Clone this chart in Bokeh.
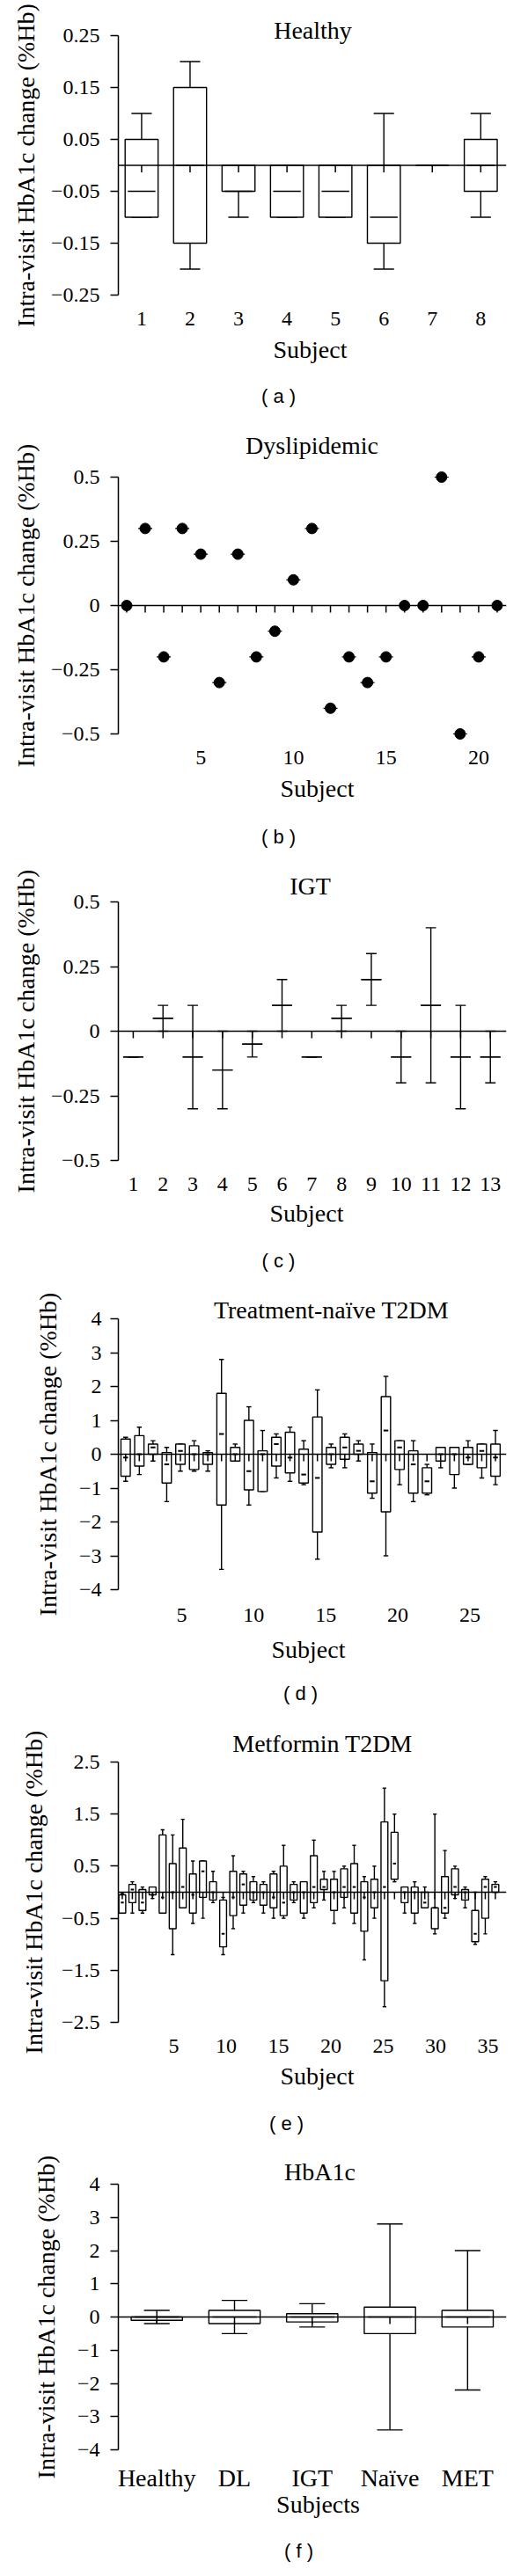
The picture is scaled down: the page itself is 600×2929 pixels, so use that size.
import math
from bokeh.plotting import figure
from bokeh.models import Range1d, FixedTicker, LinearAxis, Label, Span
from bokeh.layouts import column
from bokeh.embed import file_html
from bokeh.resources import INLINE

SERIF = "Liberation Serif"
SANS = "Liberation Sans"
Y_TITLE = "Intra-visit HbA1c change (%Hb)"

# ---------------- data ----------------
# (a) Healthy : box = q1..q3, whiskers lo..hi, median
a_subject = [1, 2, 3, 4, 5, 6, 7, 8]
a_q3 = [0.05, 0.15, 0.0, 0.0, 0.0, 0.0, 0.0, 0.05]
a_q1 = [-0.10, -0.15, -0.05, -0.10, -0.10, -0.15, 0.0, -0.05]
a_hi = [0.10, 0.20, 0.0, 0.0, 0.0, 0.10, 0.0, 0.10]
a_lo = [-0.10, -0.20, -0.10, -0.10, -0.10, -0.20, 0.0, -0.10]
a_med = [-0.05, 0.0, -0.05, -0.05, -0.05, -0.10, 0.0, 0.0]
a_yticks = [0.25, 0.15, 0.05, -0.05, -0.15, -0.25]
a_ylabels = ["0.25", "0.15", "0.05", "\u22120.05", "\u22120.15", "\u22120.25"]
a_xticks = [1, 2, 3, 4, 5, 6, 7, 8]

# (b) Dyslipidemic : one value per subject
b_subject = [1, 2, 3, 4, 5, 6, 7, 8, 9, 10, 11, 12, 13, 14, 15, 16, 17, 18, 19, 20, 21]
b_value = [0.0, 0.3, -0.2, 0.3, 0.2, -0.3, 0.2, -0.2, -0.1, 0.1, 0.3,
           -0.4, -0.2, -0.3, -0.2, 0.0, 0.0, 0.5, -0.5, -0.2, 0.0]
b_yticks = [0.5, 0.25, 0, -0.25, -0.5]
b_ylabels = ["0.5", "0.25", "0", "\u22120.25", "\u22120.5"]
b_xticks = [5, 10, 15, 20]

# (c) IGT : centre line and whiskers
c_subject = [1, 2, 3, 4, 5, 6, 7, 8, 9, 10, 11, 12, 13]
c_mid = [-0.1, 0.05, -0.1, -0.15, -0.05, 0.1, -0.1, 0.05, 0.2, -0.1, 0.1, -0.1, -0.1]
c_hi = [-0.1, 0.1, 0.1, 0.0, 0.0, 0.2, -0.1, 0.1, 0.3, 0.0, 0.4, 0.1, 0.0]
c_lo = [-0.1, 0.0, -0.3, -0.3, -0.1, 0.0, -0.1, 0.0, 0.1, -0.2, -0.2, -0.3, -0.2]
c_yticks = [0.5, 0.25, 0, -0.25, -0.5]
c_ylabels = ["0.5", "0.25", "0", "\u22120.25", "\u22120.5"]
c_xticks = [1, 2, 3, 4, 5, 6, 7, 8, 9, 10, 11, 12, 13]

# (d) Treatment-naive T2DM
d_subject = [1, 2, 3, 4, 5, 6, 7, 8, 9, 10, 11, 12, 13, 14, 15, 16, 17, 18, 19, 20,
             21, 22, 23, 24, 25, 26, 27, 28]
d_q3 = [0.45, 0.55, 0.3, 0.05, 0.3, 0.25, 0.05, 1.8, 0.2, 1.0, 0.1, 0.5, 0.65, 0.15,
        1.1, 0.2, 0.5, 0.3, 0.05, 1.7, 0.4, 0.1, -0.4, 0.2, 0.2, 0.2, 0.3, 0.3]
d_q1 = [-0.65, -0.35, 0.0, -0.85, -0.3, -0.45, -0.3, -1.5, -0.2, -1.05, -1.1, -0.35, -0.55, -0.85,
        -2.3, -0.3, -0.15, 0.0, -1.15, -1.7, -0.45, -1.15, -1.15, -0.2, -0.6, -0.3, -0.4, -0.65]
d_hi = [0.5, 0.8, 0.4, 0.2, 0.3, 0.4, 0.1, 2.8, 0.3, 1.4, 0.7, 0.6, 0.8, 0.4,
        1.9, 0.3, 0.6, 0.4, 0.3, 2.3, 0.4, 0.4, -0.3, 0.2, 0.2, 0.4, 0.3, 0.7]
d_lo = [-0.8, -0.6, -0.2, -1.4, -0.5, -0.5, -0.5, -3.4, -0.2, -1.5, -1.1, -0.7, -0.8, -0.9,
        -3.1, -0.4, -0.4, -0.2, -1.3, -3.0, -0.9, -1.4, -1.2, -0.4, -1.0, -0.3, -0.7, -0.9]
d_med = [-0.1, 0.0, 0.2, -0.3, 0.1, 0.0, 0.0, 0.6, 0.0, -0.5, 0.0, 0.3, -0.1, -0.6,
         -0.7, 0.0, 0.2, 0.1, -0.8, 0.7, 0.2, -0.3, -0.8, 0.0, 0.0, -0.1, 0.1, -0.1]
d_yticks = [4, 3, 2, 1, 0, -1, -2, -3, -4]
d_ylabels = ["4", "3", "2", "1", "0", "\u22121", "\u22122", "\u22123", "\u22124"]
d_xticks = [5, 10, 15, 20, 25]

# (e) Metformin T2DM
e_subject = [1, 2, 3, 4, 5, 6, 7, 8, 9, 10, 11, 12, 13, 14, 15, 16, 17, 18, 19, 20,
             21, 22, 23, 24, 25, 26, 27, 28, 29, 30, 31, 32, 33, 34, 35, 36, 37, 38]
e_q3 = [-0.05, 0.15, 0.05, 0.1, 1.1, 0.55, 0.85, 0.35, 0.6, 0.2, -0.15, 0.4, 0.35, 0.2,
        0.15, 0.35, 0.5, 0.15, 0.2, 0.7, 0.25, 0.25, 0.45, 0.55, 0.2, 0.25, 1.35, 1.15,
        0.1, 0.1, 0.0, -0.3, 0.3, 0.45, 0.05, -0.35, 0.25, 0.15]
e_q1 = [-0.4, -0.2, -0.35, -0.05, -0.4, -0.7, -0.3, -0.4, -0.1, -0.15, -1.05, -0.45, -0.25, -0.15,
        -0.25, -0.3, -0.45, -0.15, -0.4, -0.2, 0.05, -0.35, -0.1, -0.4, -0.75, -0.3, -1.7, 0.25,
        -0.2, -0.4, -0.3, -0.7, -0.4, -0.05, -0.15, -0.95, -0.5, 0.0]
e_hi = [-0.03, 0.2, 0.1, 0.1, 1.2, 1.1, 1.4, 0.6, 0.6, 0.4, -0.1, 0.7, 0.4, 0.3,
        0.2, 0.4, 0.9, 0.2, 0.2, 1.0, 0.4, 0.4, 0.5, 0.9, 0.3, 0.5, 2.0, 1.5,
        0.1, 0.2, 0.1, 1.5, 0.8, 0.5, 0.1, 0.0, 0.3, 0.2]
e_lo = [-0.4, -0.4, -0.4, -0.12, -0.4, -1.2, -0.3, -0.6, -0.5, -0.2, -1.2, -0.7, -0.4, -0.2,
        -0.4, -0.5, -0.5, -0.2, -0.5, -0.3, -0.15, -0.6, -0.3, -0.6, -1.3, -0.5, -2.2, 0.2,
        -0.4, -0.6, -0.3, -0.8, -0.5, -0.12, -0.3, -1.0, -0.8, 0.0]
e_med = [-0.2, 0.05, -0.2, -0.05, -0.1, 0.0, 0.1, -0.05, 0.4, 0.0, -0.8, -0.1, 0.15, 0.0,
         0.0, -0.1, -0.2, 0.0, 0.0, 0.1, 0.1, 0.0, 0.1, 0.1, -0.1, 0.0, 0.1, 0.55,
         0.0, 0.0, -0.2, -0.3, -0.3, 0.1, 0.0, -0.8, 0.1, 0.1]
e_yticks = [2.5, 1.5, 0.5, -0.5, -1.5, -2.5]
e_ylabels = ["2.5", "1.5", "0.5", "\u22120.5", "\u22121.5", "\u22122.5"]
e_xticks = [5, 10, 15, 20, 25, 30, 35]

# (f) HbA1c by group
f_group = [1, 2, 3, 4, 5]
f_names = ["Healthy", "DL", "IGT", "Na\u00efve", "MET"]
f_q3 = [0.0, 0.2, 0.1, 0.3, 0.2]
f_q1 = [-0.1, -0.2, -0.15, -0.5, -0.3]
f_hi = [0.2, 0.5, 0.4, 2.8, 2.0]
f_lo = [-0.2, -0.5, -0.3, -3.4, -2.2]
f_med = [0.0, 0.0, 0.0, 0.0, 0.0]
f_yticks = [4, 3, 2, 1, 0, -1, -2, -3, -4]
f_ylabels = ["4", "3", "2", "1", "0", "\u22121", "\u22122", "\u22123", "\u22124"]

# ---------------- helpers ----------------
LW = 1.4
TICK_PT = "24px"
TEXT_PT = "28px"
CAP_PT = "22px"


def make_panel(fig_top, fig_h, ax_top, ax_bottom, frame_left, xr, yr, pad=0):
    frame_top = ax_top - pad
    frame_bottom = ax_bottom + pad
    L = int(round(frame_left - 8))
    T = int(round(frame_top - fig_top))
    B = fig_h - int(round(frame_bottom - fig_top))
    fh = fig_h - T - B
    ppu = (fh - 2 * pad) / (yr[1] - yr[0])
    ext = pad / ppu
    p = figure(width=584, height=fig_h, x_range=Range1d(*xr),
               y_range=Range1d(yr[0] - ext, yr[1] + ext),
               x_axis_location=None, y_axis_location=None, toolbar_location=None,
               output_backend="svg", min_border_left=L, min_border_right=9,
               min_border_top=T, min_border_bottom=B)
    p.grid.grid_line_color = None
    p.outline_line_color = None
    p.background_fill_color = "white"
    p.border_fill_color = "white"
    geo = dict(left=8 + L, ppu=ppu, xr=xr, yr=yr, pad=pad)
    return p, geo


def y_axis(p, geo, ticks, labels, standoff=12):
    ax = LinearAxis(ticker=FixedTicker(ticks=ticks), bounds=tuple(geo["yr"]),
                    major_label_overrides={t: s for t, s in zip(ticks, labels)},
                    major_tick_out=9, major_tick_in=0, minor_tick_out=0, minor_tick_in=0,
                    axis_line_width=1.5, major_tick_line_width=1.5,
                    major_label_text_font=SERIF, major_label_text_font_size=TICK_PT,
                    major_label_text_color="black", major_label_standoff=standoff)
    p.add_layout(ax, "left")


def x_axis(p, geo, ticks, overrides=None, range_name="default", size=TICK_PT, gap=19):
    kw = {}
    if overrides:
        kw["major_label_overrides"] = overrides
    ax = LinearAxis(ticker=FixedTicker(ticks=ticks), x_range_name=range_name,
                    axis_line_color=None, major_tick_out=0, major_tick_in=0,
                    minor_tick_out=0, minor_tick_in=0,
                    major_label_text_font=SERIF, major_label_text_font_size=size,
                    major_label_text_color="black",
                    major_label_standoff=int(gap - geo["pad"]), **kw)
    p.add_layout(ax, "below")


def texts(p, geo, title, title_x, title_up, xlab, xlab_x, xlab_down, cap, cap_down):
    x0, x1 = geo["xr"]
    y0, y1 = geo["yr"]
    left = geo["left"]
    p.add_layout(Label(x=x0, y=y1, x_offset=title_x - left, y_offset=title_up, text=title,
                       text_align="center", text_baseline="alphabetic", text_font=SERIF,
                       text_font_size=TEXT_PT, text_color="black"), "above")
    p.add_layout(Label(x=x0, y=(y0 + y1) / 2, x_offset=37 - left, y_offset=0, text=Y_TITLE,
                       angle=math.pi / 2, text_align="center", text_baseline="middle",
                       text_font=SERIF, text_font_size=TEXT_PT, text_color="black"), "left")
    p.add_layout(Label(x=x0, y=y0, x_offset=xlab_x - left, y_offset=-xlab_down, text=xlab,
                       text_align="center", text_baseline="alphabetic", text_font=SERIF,
                       text_font_size=TEXT_PT, text_color="black"), "below")
    p.add_layout(Label(x=x0, y=y0, x_offset=324 - left, y_offset=-cap_down, text=cap,
                       text_align="center", text_baseline="middle", text_font=SANS,
                       text_font_size=CAP_PT, text_color="black"), "below")


def zero_line(p, geo, xs):
    tl = 8 / geo["ppu"]
    p.add_layout(Span(location=0, dimension="width", line_color="black", line_width=1.5))
    p.segment(x0=xs, y0=[0] * len(xs), x1=xs, y1=[-tl] * len(xs),
              line_color="black", line_width=1.5)


def boxes(p, xs, q3, q1, hi, lo, med, bw, cw, mw, mlw=LW):
    p.segment(x0=xs, y0=lo, x1=xs, y1=hi, line_color="black", line_width=LW)
    p.segment(x0=[x - cw / 2 for x in xs], y0=hi, x1=[x + cw / 2 for x in xs], y1=hi,
              line_color="black", line_width=LW)
    p.segment(x0=[x - cw / 2 for x in xs], y0=lo, x1=[x + cw / 2 for x in xs], y1=lo,
              line_color="black", line_width=LW)
    p.quad(left=[x - bw / 2 for x in xs], right=[x + bw / 2 for x in xs], top=q3, bottom=q1,
           fill_color="white", line_color="black", line_width=LW)
    p.segment(x0=[x - mw / 2 for x in xs], y0=med, x1=[x + mw / 2 for x in xs], y1=med,
              line_color="black", line_width=mlw)


# ---------------- panel a ----------------
pa, ga = make_panel(8, 477, 47.7, 342.7, 141.5, (0.52, 8.53), (-0.25, 0.25))
y_axis(pa, ga, a_yticks, a_ylabels)
x_axis(pa, ga, a_xticks)
boxes(pa, a_subject, a_q3, a_q1, a_hi, a_lo, a_med, 0.68, 0.42, 0.57)
zero_line(pa, ga, a_subject)
texts(pa, ga, "Healthy", 363, 6, "Subject", 360, 62, "( a )", 115)

# ---------------- panel b ----------------
pb, gb = make_panel(485, 500, 550, 842.5, 141.5, (0.55, 21.5), (-0.5, 0.5), pad=7)
y_axis(pb, gb, b_yticks, b_ylabels)
x_axis(pb, gb, b_xticks)
zero_line(pb, gb, b_subject)
pb.scatter(b_subject, b_value, marker="dash", size=16, line_color="black", line_width=1.2)
pb.scatter(b_subject, b_value, marker="circle", size=12, fill_color="black", line_color="black")
texts(pb, gb, "Dyslipidemic", 362, 36, "Subject", 368, 62, "( b )", 117)

# ---------------- panel c ----------------
pc, gc = make_panel(985, 480, 1033, 1327, 141.5, (0.5, 13.54), (-0.5, 0.5))
y_axis(pc, gc, c_yticks, c_ylabels)
x_axis(pc, gc, c_xticks)
boxes(pc, c_subject, c_mid, c_mid, c_hi, c_lo, c_mid, 0.68, 0.35, 0.68)
zero_line(pc, gc, c_subject)
texts(pc, gc, "IGT", 360, 18, "Subject", 356, 60, "( c )", 114)

# ---------------- panel d ----------------
pd_, gd = make_panel(1465, 493, 1507, 1815, 117, (0.47, 28.8), (-4, 4))
pd_.extra_x_ranges = {"lab": Range1d(0.607, 27.54)}
y_axis(pd_, gd, d_yticks, d_ylabels, standoff=10)
x_axis(pd_, gd, d_xticks, range_name="lab", gap=21)
boxes(pd_, d_subject, d_q3, d_q1, d_hi, d_lo, d_med, 0.68, 0.35, 0.35, mlw=2)
zero_line(pd_, gd, d_subject)
texts(pd_, gd, "Treatment-na\u00efve T2DM", 359, 10, "Subject", 333, 68, "( d )", 118)

# ---------------- panel e ----------------
pe, ge = make_panel(1958, 488, 2011, 2307, 132.7, (0.61, 39.1), (-2.5, 2.5))
pe.extra_x_ranges = {"lab": Range1d(-0.29, 36.77)}
y_axis(pe, ge, e_yticks, e_ylabels)
x_axis(pe, ge, e_xticks, range_name="lab")
boxes(pe, e_subject, e_q3, e_q1, e_hi, e_lo, e_med, 0.68, 0.37, 0.3, mlw=2)
zero_line(pe, ge, e_subject)
texts(pe, ge, "Metformin T2DM", 365, 21, "Subject", 359, 61, "( e )", 115)

# ---------------- panel f ----------------
pf, gf = make_panel(2446, 475, 2491, 2793, 119, (0.505, 5.5), (-4, 4))
y_axis(pf, gf, f_yticks, f_ylabels)
x_axis(pf, gf, f_group, overrides={g: n for g, n in zip(f_group, f_names)}, size=TEXT_PT, gap=16)
boxes(pf, f_group, f_q3, f_q1, f_hi, f_lo, f_med, 0.66, 0.33, 0.57)
zero_line(pf, gf, f_group)
texts(pf, gf, "HbA1c", 348, 14, "Subjects", 346, 62, "( f )", 115)

layout = column(pa, pb, pc, pd_, pe, pf, spacing=0)
open("out.html", "w").write(file_html(layout, INLINE))
